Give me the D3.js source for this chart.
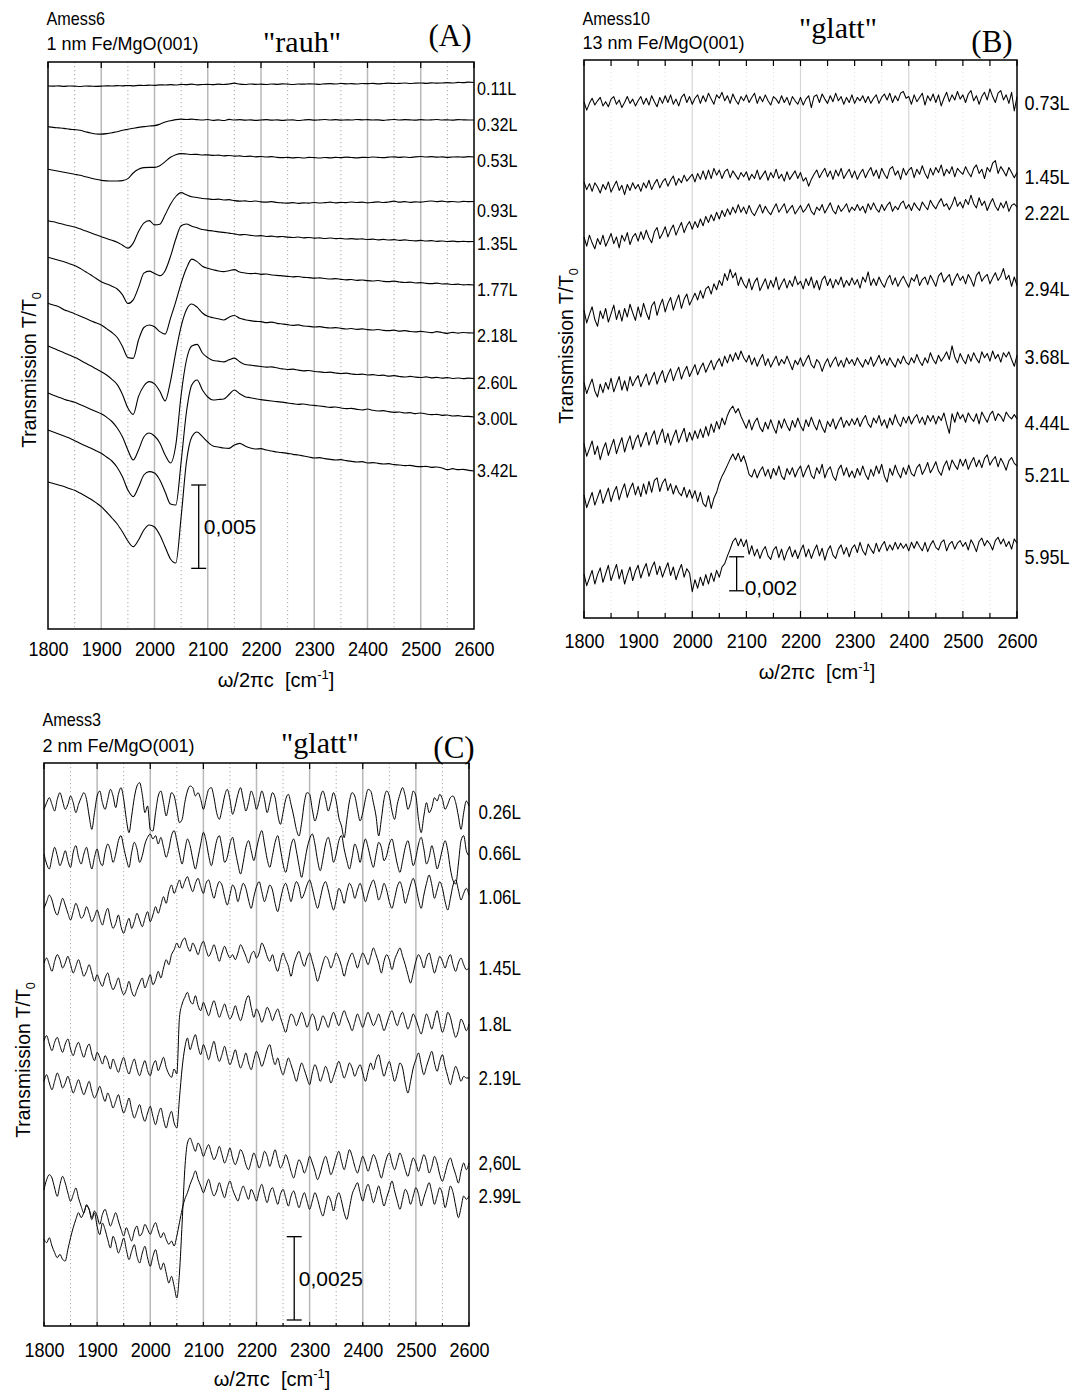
<!DOCTYPE html>
<html>
<head>
<meta charset="utf-8">
<title>Fe/MgO(001) IR transmission spectra</title>
<script src="https://cdn.jsdelivr.net/npm/d3@7/dist/d3.min.js"></script>
<style>
  html, body { margin: 0; padding: 0; background: #fff; }
  svg { display: block; }
</style>
</head>
<body>
<svg id="chart" width="1075" height="1393"></svg>
<script>
const SANS = "'Liberation Sans', Arial, Helvetica, sans-serif";
const SERIF = "'Liberation Serif', 'Times New Roman', serif";
const UNIT = 1e-5; // stored transmission values are in units of 1e-5 T/T0

// wavenumber axis (cm^-1)
const tickValues = [1800, 1900, 2000, 2100, 2200, 2300, 2400, 2500, 2600];
const waveA = d3.range(1800, 2601, 10);
const waveB = d3.range(1800, 2601, 5);
const waveC = d3.range(1800, 2601, 5);

// ---------- (A) Amess6, 1 nm Fe/MgO(001), "rauh" ----------
const labelsA = ['0.11L', '0.32L', '0.53L', '0.93L', '1.35L', '1.77L', '2.18L', '2.60L', '3.00L', '3.42L'];
const offsetsA = [3279, 3054, 2832, 2565, 2325, 2064, 1776, 1503, 1272, 948];
const tracesA = [
  [-21,-22,-20,-23,-21,-22,-24,-21,-22,-23,
   -22,-20,-21,-19,-20,-18,-20,-17,-18,-16,
   -17,-14,-15,-13,-15,-11,-13,-10,-14,-12,
   -11,-13,-10,-12,-9,-4,-10,-12,-9,-11,
   -10,-12,-9,-11,-8,-10,-12,-9,-10,-8,
   -9,-11,-8,-7,-9,-6,-8,-7,-9,-6,
   -7,-5,-8,-6,-4,-6,-5,-3,-6,-4,
   -3,-5,-2,-4,-3,-1,-3,1,-1,2,
   0],
  [-40,-44,-47,-50,-55,-58,-62,-70,-78,-84,
   -85,-82,-76,-70,-62,-56,-50,-44,-40,-36,
   -34,-25,-12,-4,2,5,3,5,2,0,
   3,-2,1,-3,4,0,2,-1,1,-2,
   0,2,-1,1,-2,0,1,-3,0,2,
   -1,1,3,0,2,-1,1,0,3,1,
   2,0,1,-2,1,3,0,2,1,-1,
   2,0,1,3,0,1,-1,2,1,0,
   0],
  [-74,-80,-86,-92,-98,-104,-110,-118,-126,-134,
   -140,-143,-144,-144,-142,-130,-96,-74,-64,-62,
   -62,-52,-28,-2,14,20,18,15,16,12,
   13,10,11,7,9,5,7,3,5,1,
   3,0,2,-2,-4,-2,-5,-3,-6,-2,
   -4,-6,-3,-5,-2,-4,-1,-3,-5,-2,
   -3,0,-2,-4,-1,1,-2,0,-3,1,
   3,0,2,-1,1,-2,0,1,-1,2,
   0],
  [-115,-122,-130,-138,-146,-153,-164,-176,-188,-200,
   -211,-222,-233,-244,-262,-280,-250,-180,-130,-115,
   -140,-136,-80,-16,30,53,40,28,24,18,
   16,12,14,9,11,5,2,4,0,3,
   -2,-4,-1,-6,-8,-10,-7,-11,-8,-10,
   -6,-9,-7,-4,-8,-5,-7,-3,-6,-4,
   -8,-5,-2,-6,-3,2,-4,-1,-5,-2,
   -4,0,3,-1,2,-2,0,-3,1,-1,
   0],
  [-95,-104,-113,-122,-133,-144,-160,-180,-200,-221,
   -241,-255,-268,-285,-320,-372,-350,-275,-190,-178,
   -192,-205,-175,-90,15,95,105,92,82,72,
   67,63,58,55,50,46,40,42,37,33,
   35,30,32,28,30,26,24,27,22,24,
   20,22,18,21,17,19,15,17,14,16,
   12,14,10,13,9,11,7,10,6,4,
   7,3,5,1,3,0,2,-1,1,-1,
   0],
  [-110,-120,-130,-148,-160,-172,-186,-200,-214,-227,
   -240,-262,-285,-315,-370,-435,-440,-330,-255,-240,
   -250,-280,-295,-200,-100,10,100,155,140,112,
   100,92,84,80,86,92,78,72,68,70,
   64,66,60,58,55,52,49,51,46,44,
   41,43,39,36,38,34,31,33,28,30,
   26,24,27,22,20,23,18,15,17,12,
   14,10,8,11,6,7,3,5,1,2,
   0],
  [-78,-92,-105,-118,-132,-146,-162,-180,-197,-215,
   -232,-252,-278,-310,-370,-450,-488,-380,-318,-292,
   -305,-350,-408,-290,-115,40,140,174,155,120,
   100,92,85,78,95,105,88,80,74,70,
   68,62,65,58,54,50,46,49,42,40,
   36,38,33,30,32,28,24,27,22,25,
   20,18,21,16,14,17,11,14,9,7,
   10,6,2,8,3,-2,4,-1,3,1,
   0],
  [-87,-100,-112,-124,-134,-142,-156,-170,-184,-198,
   -212,-232,-258,-297,-351,-429,-489,-429,-351,-327,
   -345,-387,-459,-507,-399,-99,111,195,205,153,
   125,108,104,100,112,122,100,84,80,76,
   72,68,70,64,58,54,56,50,46,48,
   42,40,36,38,33,30,32,27,24,26,
   21,23,18,20,14,17,12,9,13,8,
   6,10,4,7,2,5,0,3,-1,2,
   0],
  [-78,-90,-102,-114,-126,-142,-158,-172,-186,-202,
   -218,-240,-264,-303,-360,-438,-478,-420,-348,-328,
   -336,-378,-450,-522,-528,-270,30,192,222,162,
   120,102,105,108,135,162,140,122,116,110,
   104,100,96,92,89,84,80,76,78,72,
   70,66,62,58,60,54,50,52,46,42,
   48,40,36,38,32,28,30,24,26,20,
   24,18,14,16,10,12,6,8,3,4,
   0],
  [-66,-75,-84,-93,-105,-116,-132,-150,-168,-190,
   -214,-246,-282,-318,-366,-420,-454,-414,-354,-324,
   -336,-384,-456,-528,-552,-276,54,204,234,206,
   174,150,144,138,136,156,166,150,138,132,
   134,126,120,114,110,106,100,96,90,84,
   78,80,74,70,66,68,62,58,54,56,
   48,50,46,42,44,38,36,32,34,28,
   26,28,22,24,18,8,14,8,10,4,
   0]
];

// ---------- (B) Amess10, 13 nm Fe/MgO(001), "glatt" ----------
const labelsB = ['0.73L', '1.45L', '2.22L', '2.94L', '3.68L', '4.44L', '5.21L', '5.95L'];
const offsetsB = [3046, 2599, 2411, 1970, 1535, 1171, 889, 415];
const tracesB = [
  [-10,-60,-20,10,-30,-5,15,-35,-10,-40,5,20,-25,0,-45,-15,20,-20,5,-35,
   -5,20,-25,10,-30,25,-10,-40,15,-20,25,-15,30,-25,5,-35,15,35,-15,20,
   -25,10,30,-20,25,-10,40,5,-25,30,10,45,-5,25,-20,35,0,-25,20,-5,
   30,-15,15,40,-20,20,-10,30,-5,-30,20,5,-20,25,-15,15,-30,20,-5,-25,
   15,-30,5,25,-45,20,30,-15,35,5,-20,25,-10,40,-5,20,-25,15,-15,30,
   -20,15,-5,25,-15,20,-20,10,30,-20,15,35,0,40,-15,25,-5,40,50,10,
   20,-25,30,-10,15,40,-30,25,-5,35,-15,30,-35,10,45,-10,30,0,50,5,
   30,-15,35,55,-5,25,-25,20,45,0,65,20,-15,40,55,0,30,-20,45,-65,
   20],
  [-35,-80,-45,-90,-40,-65,-100,-50,-80,-35,-95,-60,-30,-85,-55,-110,-50,-85,-40,-75,
   -50,-90,-40,-70,-25,-80,-45,-20,-70,-35,-15,-60,-25,0,-55,-15,-40,5,-30,-10,
   10,-35,15,-20,30,-20,35,-15,45,5,35,-15,25,40,-10,30,5,-20,20,-5,
   25,-25,10,-15,35,-20,5,30,-25,20,-10,40,-15,10,-30,25,-20,5,30,-15,
   20,-30,-10,-60,-20,10,35,-10,20,45,-5,30,-20,35,0,45,-15,15,40,-10,
   30,-20,15,40,-10,25,50,0,35,-15,45,10,-15,40,55,5,30,-20,45,5,
   35,50,-10,40,10,60,15,-15,45,5,50,20,65,0,40,15,55,-5,45,25,
   10,55,20,-5,45,65,15,40,-15,50,25,75,90,15,55,30,0,50,20,-10,
   20],
  [-170,-225,-160,-205,-240,-180,-215,-160,-225,-190,-150,-210,-170,-235,-160,-195,-145,-215,-170,-150,
   -195,-140,-185,-130,-175,-205,-140,-115,-180,-150,-110,-170,-130,-100,-160,-120,-85,-145,-105,-80,
   -125,-80,-115,-65,-105,-50,-85,-40,-75,-25,-65,-15,-50,-5,-40,5,-30,20,-25,5,
   -35,15,-25,-45,-10,20,-30,10,-20,-40,-5,25,-25,0,25,-30,-5,15,-35,-10,
   15,-25,-5,25,-20,-40,5,-15,20,-30,0,30,-15,-35,15,-20,0,25,-25,5,
   -15,20,-15,10,-30,25,-10,30,-5,-25,20,-15,15,35,-20,10,-10,25,40,-5,
   20,-15,30,5,-15,35,10,-10,45,15,-5,30,55,10,25,-10,20,65,10,35,
   0,50,20,75,25,0,60,15,40,-15,25,55,10,-15,30,0,40,-20,15,25,
   5],
  [-160,-235,-185,-140,-215,-255,-165,-210,-150,-230,-180,-130,-215,-160,-225,-150,-200,-125,-175,-220,
   -140,-200,-120,-175,-215,-135,-110,-190,-135,-95,-170,-120,-85,-160,-110,-70,-150,-95,-65,-130,
   -95,-60,-100,-45,-90,-35,-20,-65,-5,-40,15,-15,55,15,80,30,60,-15,35,-5,
   -30,25,-40,5,30,-45,-10,25,-35,15,-25,35,-40,-5,25,-30,15,-20,40,-10,
   10,-35,25,-15,35,-30,15,-40,20,40,-15,25,-30,20,-10,35,-25,15,-15,30,
   -10,20,-30,35,5,65,-15,25,-15,35,0,-25,20,45,-10,30,-20,15,40,5,
   -25,30,10,50,-15,20,35,-10,45,15,-20,40,60,5,30,50,-15,25,55,15,
   40,-5,50,20,-20,45,65,10,35,50,-5,30,60,15,40,85,20,45,-20,35,
   -15],
  [-150,-215,-170,-130,-200,-235,-160,-210,-150,-190,-125,-205,-160,-115,-195,-140,-200,-115,-170,-135,
   -110,-175,-135,-100,-165,-125,-90,-160,-115,-80,-150,-105,-70,-140,-95,-60,-130,-85,-55,-115,
   -80,-45,-105,-65,-35,-90,-55,-20,-75,-35,-10,-55,5,-35,15,-25,25,-15,35,-5,
   -30,10,-45,-5,-55,-15,15,-50,-10,-60,-25,5,-50,-15,-40,5,-35,-75,-20,-45,
   -5,-55,-20,10,-45,-65,-15,-35,-85,-40,-10,-60,-25,0,-55,-20,-60,-5,-40,-15,
   -50,-5,-35,-60,-15,-45,0,-55,-25,10,-40,-10,-50,-5,-35,-60,-10,-40,5,-30,
   -45,-5,-35,15,-25,-50,-5,-35,25,-15,-40,10,-25,0,30,-15,65,0,-35,20,
   -15,-40,15,-25,25,-10,-35,30,-5,20,-25,35,-10,15,-30,25,0,30,-15,-55,
   10],
  [-145,-220,-175,-130,-210,-160,-240,-180,-140,-215,-165,-120,-205,-155,-110,-195,-140,-100,-180,-125,
   -95,-165,-120,-80,-155,-105,-70,-150,-100,-60,-140,-85,-155,-105,-65,-140,-95,-55,-135,-80,
   -125,-70,-115,-60,-110,-45,-100,-30,-80,-15,-60,5,-35,20,55,75,35,60,15,-20,
   -55,-5,-65,-20,5,-50,-75,-20,-60,-5,-50,-85,-10,-55,0,-40,-70,-10,-50,5,
   -40,-70,-5,-45,10,-35,-65,-5,-50,-80,-15,-45,0,-60,-20,10,-50,-10,-40,0,
   -35,5,-45,-5,20,-30,-50,5,-25,20,-40,-5,-55,5,-35,25,-20,-45,10,-25,
   15,-30,5,25,-25,10,-35,20,-15,20,-30,15,-10,35,-30,-85,30,-20,40,0,
   25,-20,35,5,-15,30,-30,40,10,-20,25,45,-10,30,15,-15,40,15,0,25,
   0],
  [-165,-240,-195,-150,-225,-180,-135,-215,-170,-125,-205,-150,-115,-195,-140,-100,-180,-130,-95,-165,
   -115,-175,-100,-160,-85,-150,-80,-65,-145,-95,-70,-140,-100,-160,-110,-150,-170,-120,-180,-135,
   -185,-140,-205,-150,-215,-235,-170,-245,-185,-150,-95,-55,-25,10,45,75,40,80,30,65,
   15,-45,-60,-15,-65,-25,0,-55,-15,-70,-10,-50,5,-55,-75,-10,-45,-5,-60,-20,
   5,-60,-20,10,-50,-70,-5,-40,15,-65,-20,0,-55,-80,-15,10,-50,-5,-60,-25,
   -65,-10,-50,5,-45,-75,-15,-55,5,-40,15,-55,-90,-10,-50,10,-35,-65,-5,-45,
   10,-40,-55,-5,15,-45,-15,25,-35,-5,30,-25,-50,5,35,-20,40,10,-15,45,
   5,45,-15,25,55,0,40,-5,50,70,10,40,60,0,50,20,-20,35,55,20,
   5],
  [-155,-225,-180,-135,-215,-160,-120,-205,-155,-105,-195,-145,-100,-185,-130,-215,-160,-115,-195,-140,
   -105,-180,-130,-95,-170,-120,-85,-160,-110,-175,-130,-90,-165,-115,-190,-140,-100,-175,-125,-150,
   -260,-190,-240,-175,-225,-160,-215,-150,-200,-135,-175,-115,-95,-50,-10,35,55,10,50,5,
   45,-40,10,-50,-10,-65,-20,5,-50,-70,-15,5,-60,-10,-75,-25,5,-55,-15,-65,
   -20,15,-55,-10,-65,-20,15,-50,-5,-75,-20,10,-45,-65,-10,15,-40,0,-55,-5,
   15,-30,30,-20,-45,20,-10,-35,25,-25,10,35,-20,15,-15,30,-10,25,-5,20,
   -20,30,-5,35,5,-20,30,-25,15,40,0,-15,30,45,-20,20,35,-10,25,40,
   5,30,-15,45,15,-25,35,55,10,40,20,-15,40,60,20,50,5,35,-10,50,
   25]
];

// ---------- (C) Amess3, 2 nm Fe/MgO(001), "glatt" ----------
const labelsC = ['0.26L', '0.66L', '1.06L', '1.45L', '1.8L', '2.19L', '2,60L', '2.99L'];
const offsetsC = [1560, 1416, 1293, 1074, 906, 744, 489, 390];
const tracesC = [
  [-10,10,25,5,-15,20,40,15,-10,5,30,10,-20,5,25,40,20,-30,-70,-20,
   30,45,10,-10,20,50,30,-5,35,55,20,-40,-80,-30,25,60,70,35,-20,0,
   -70,-75,-20,30,45,10,-30,5,40,30,-10,-50,-40,10,45,60,55,30,40,20,
   -10,20,50,55,25,-20,-40,-10,30,50,20,-25,0,35,55,20,-15,10,45,25,
   -10,15,45,20,-20,10,40,25,-25,-55,-20,20,35,5,-30,-70,-90,-50,10,40,
   35,-10,-45,-20,25,45,20,-15,10,40,15,-35,-60,-95,-40,15,40,30,-10,-45,
   -20,20,50,45,10,-30,-90,-40,20,45,30,-15,-40,5,35,55,30,-10,10,45,
   30,-40,-80,-30,10,-20,-5,25,15,35,20,-10,5,25,30,10,-30,-70,-20,15,
   0],
  [0,-30,-45,-10,20,-5,-35,-15,10,-20,-40,5,25,-10,-30,0,20,-15,-45,-10,
   15,-20,-35,5,30,10,-25,0,40,55,20,-15,-40,5,35,15,-25,-5,30,50,
   60,45,55,30,50,20,-10,15,55,70,40,0,-30,10,45,25,-15,-45,-10,30,
   65,40,-5,-35,0,40,55,20,-25,-10,30,50,10,-30,-60,-25,20,40,10,-20,
   15,50,70,30,-15,-40,-5,35,55,15,-30,-55,-20,25,45,10,-35,-70,-30,15,
   45,60,30,-20,-50,-15,30,50,20,-25,0,40,55,15,-20,-45,-10,30,10,-25,
   15,45,20,-15,-40,0,35,20,-20,-5,30,45,10,-30,-55,-20,20,40,5,-35,
   -10,30,50,15,-30,-10,25,-5,-45,-20,15,40,10,-45,-80,-90,-30,40,55,10,
   -5],
  [-40,-20,0,-15,-45,-60,-35,-10,-30,-55,-75,-50,-25,-45,-70,-60,-35,-55,-80,-65,
   -45,-70,-90,-60,-40,-75,-100,-85,-60,-95,-115,-90,-70,-100,-80,-55,-75,-95,-70,-50,
   -80,-60,-35,-55,-30,-5,-25,10,30,5,25,45,20,40,55,30,10,35,50,25,
   5,35,45,15,-10,20,40,30,-5,-30,0,30,15,-20,10,35,20,-15,-40,-5,
   25,40,10,-20,5,30,15,-25,-50,-15,20,35,10,-20,15,40,25,-10,5,30,
   45,20,-15,-40,-10,25,40,15,-20,-45,-15,20,5,-25,10,35,20,-10,15,35,
   10,-20,5,30,45,20,-15,5,35,15,-20,-40,-10,25,40,15,-25,0,30,50,
   25,-15,-40,0,35,60,30,-10,15,40,20,-20,-45,-10,30,45,15,-15,5,20,
   0],
  [15,30,10,-10,20,40,25,0,15,35,10,-15,5,25,0,-25,-10,10,-15,-40,
   -20,-40,-55,-30,-15,-45,-65,-50,-30,-60,-80,-65,-40,-70,-85,-65,-45,-30,-60,-40,
   -20,-50,-35,-10,-30,0,25,10,40,55,75,60,80,90,65,50,75,60,40,65,
   80,55,35,50,70,45,20,45,65,45,30,40,25,45,70,55,35,15,40,50,
   30,45,75,60,35,20,40,10,-10,20,45,25,5,-25,10,35,50,25,5,30,
   45,20,-10,-40,-15,15,35,25,0,20,45,30,5,-25,5,30,45,25,0,25,
   45,30,10,35,60,40,15,-15,20,40,25,-5,25,45,60,35,10,-20,-45,-15,
   20,40,25,0,30,45,15,-15,10,35,20,0,25,40,10,-10,15,30,10,-5,
   0],
  [-50,-35,-60,-80,-55,-40,-65,-85,-60,-45,-75,-95,-70,-55,-80,-100,-75,-60,-90,-110,
   -85,-100,-120,-95,-110,-135,-105,-125,-145,-120,-100,-130,-150,-125,-105,-135,-155,-130,-110,-140,
   -155,-125,-110,-140,-120,-100,-130,-150,-160,-135,-150,20,60,80,95,70,60,85,55,40,
   65,45,25,50,70,45,20,40,60,35,15,30,55,30,10,35,70,85,50,20,
   45,30,5,25,50,35,10,30,45,20,-5,-25,5,30,20,-5,15,35,15,-10,
   10,30,15,-20,0,25,10,-10,15,35,15,-5,20,40,20,0,-20,5,30,10,
   -10,15,35,15,-5,10,30,5,-20,0,25,40,15,-5,20,35,10,-15,5,30,
   15,-10,-30,0,30,10,-15,15,40,5,-25,0,35,20,-15,-40,-20,15,0,-20,
   0],
  [-10,10,-15,-35,-10,15,-5,-30,-15,5,-20,-45,-25,-5,-30,-50,-30,-10,-40,-60,
   -45,-25,-50,-70,-45,-65,-90,-70,-50,-80,-105,-85,-60,-95,-120,-100,-80,-110,-130,-105,
   -85,-115,-140,-110,-90,-125,-150,-120,-100,-135,-150,-60,30,90,120,85,110,130,95,70,
   100,80,55,85,110,75,50,70,95,65,40,60,85,55,30,50,75,45,25,55,
   80,60,35,55,85,100,65,40,60,30,10,35,60,40,15,-10,20,45,25,0,
   -20,15,40,20,-10,10,35,15,-15,5,30,50,25,0,20,45,30,5,25,40,
   15,-10,20,45,25,55,70,35,5,30,50,20,-10,15,45,30,-15,-45,-10,30,
   55,75,40,10,35,60,80,45,20,50,70,35,5,-20,10,35,15,-10,5,0,
   0],
  [-80,-50,-35,-45,-75,-100,-65,-40,-60,-90,-115,-95,-75,-105,-130,-150,-125,-140,-170,-150,
   -190,-215,-180,-200,-230,-255,-220,-240,-270,-250,-225,-260,-290,-265,-245,-280,-300,-270,-250,-285,
   -310,-280,-260,-295,-320,-300,-330,-360,-340,-370,-405,-330,-180,-20,60,75,55,35,60,45,
   20,40,55,30,10,25,50,25,0,20,45,15,-5,15,40,25,-5,-20,5,30,
   10,-15,5,35,20,-10,15,40,10,-15,0,25,5,-25,-45,-15,10,-5,-30,-10,
   20,0,-25,-50,-30,0,20,-5,-35,-15,15,35,5,-20,10,40,20,-10,-30,-5,
   20,0,-25,0,25,10,-20,-45,-15,15,30,0,-20,5,30,10,-20,-40,-10,15,
   0,-25,0,25,5,-30,-10,20,0,-35,-55,-30,0,15,-10,-35,-60,-25,0,-20,
   0],
  [-130,-140,-125,-150,-170,-185,-175,-190,-195,-160,-125,-95,-70,-50,-65,-50,-30,-40,-65,-45,
   -60,-85,-55,-40,-65,-90,-70,-50,-75,-100,-120,-95,-115,-135,-105,-90,-120,-110,-85,-100,
   -115,-95,-80,-105,-125,-110,-130,-145,-135,-150,-120,-80,-40,-10,10,35,55,75,50,30,
   10,30,50,20,0,15,40,15,-5,25,45,20,0,-15,10,30,10,-10,20,5,
   -15,15,35,5,-20,10,25,0,-25,5,20,-5,-30,0,15,-10,-35,-10,10,-15,
   -40,-15,10,-10,-40,-60,-30,0,-15,-45,-10,10,-15,-50,-70,-35,5,25,40,10,
   -15,15,35,10,-20,5,30,0,-30,-5,20,45,15,-15,-40,-10,20,5,-25,0,
   25,5,-30,-5,20,40,10,-25,0,25,5,-35,-5,30,10,-30,-65,-35,0,-10,
   0]
];

// scale bars: [wavenumber, base value, length]
const barA = [2083, 0.00364, 0.005];
const barB = [2082, 0.00160, 0.002];
const barC = [2271, 0.00018, 0.0025];

const svg = d3.select('#chart');

function addText(g, x, y, str, o = {}) {
  const t = g.append('text')
    .attr('transform', `translate(${x},${y})` + (o.rotate ? ` rotate(${o.rotate})` : '') + ` scale(${o.sx || 1},1)`)
    .attr('text-anchor', o.anchor || 'start')
    .attr('dy', o.dy === undefined ? '0.35em' : o.dy)
    .attr('font-family', o.family || SANS)
    .attr('font-size', o.size || 20)
    .attr('fill', '#000');
  if (str !== null) t.text(str);
  return t;
}

function drawPanel(p) {
  const g = svg.append('g');
  const x = d3.scaleLinear().domain([1800, 2600]).range([p.left, p.right]);
  const y = d3.scaleLinear().domain([0, p.ymax]).range([p.bottom, p.top]);

  // gridlines
  g.selectAll('line.minor').data(p.minorGrid).join('line')
    .attr('x1', d => x(d)).attr('x2', d => x(d))
    .attr('y1', p.top).attr('y2', p.bottom)
    .attr('stroke', p.minorColor).attr('stroke-width', 1)
    .attr('stroke-dasharray', '1.2,2.8');
  g.selectAll('line.major').data(p.majorGrid).join('line')
    .attr('x1', d => x(d)).attr('x2', d => x(d))
    .attr('y1', p.top).attr('y2', p.bottom)
    .attr('stroke', p.majorColor).attr('stroke-width', p.majorWidth);

  // inward ticks
  const t100 = d3.range(1800, 2601, 100), t50 = d3.range(1850, 2600, 100);
  const tick = (vals, y0, len, color) => g.append('g').selectAll('line').data(vals).join('line')
    .attr('x1', d => x(d)).attr('x2', d => x(d))
    .attr('y1', y0).attr('y2', y0 + len)
    .attr('stroke', color).attr('stroke-width', 1.2);
  tick(t100, p.top, p.topTick, '#000');
  if (p.topTick50) tick(t50, p.top, p.topTick50, '#000');
  if (p.botTick) tick(t100, p.bottom, -p.botTick, '#000');
  if (p.botTick50) tick(t50, p.bottom, -p.botTick50, '#000');

  // traces
  const line = d3.line()
    .x((d, i) => x(p.wave[i]))
    .curve(p.curve);
  p.traces.forEach((tr, k) => {
    g.append('path')
      .attr('d', line.y(d => y((p.offsets[k] + d) * UNIT))(tr))
      .attr('fill', 'none').attr('stroke', '#000')
      .attr('stroke-width', p.lineWidth).attr('stroke-linejoin', 'round');
  });

  // frame
  g.append('rect')
    .attr('x', p.left).attr('y', p.top)
    .attr('width', p.right - p.left).attr('height', p.bottom - p.top)
    .attr('fill', 'none').attr('stroke', '#000').attr('stroke-width', 1.5);

  // tick labels
  const ax = g.append('g').attr('transform', `translate(0,${p.bottom})`)
    .call(d3.axisBottom(x).tickValues(tickValues).tickSize(0).tickPadding(p.tickPad).tickFormat(d3.format('d')));
  ax.select('.domain').remove();
  ax.selectAll('text').attr('font-family', SANS).attr('font-size', 21)
    .attr('fill', '#000').attr('transform', 'scale(0.86,1)');

  // x title
  const xt = addText(g, p.xTitle[0], p.xTitle[1], null, { anchor: 'middle', size: 20 });
  xt.append('tspan').text('\u03c9/2\u03c0c\u00a0\u00a0[cm');
  xt.append('tspan').attr('dy', -8).attr('font-size', 13).text('-1');
  xt.append('tspan').attr('dy', 8).text(']');

  // y title
  const yt = addText(g, p.yTitle[0], p.yTitle[1], null, { anchor: 'middle', size: 20, rotate: -90, sx: 0.97 });
  yt.append('tspan').text('Transmission T/T');
  yt.append('tspan').attr('dy', 5).attr('font-size', 13).text('0');

  // coverage labels
  p.labels.forEach((lab, k) => addText(g, p.labelX, p.labelY[k], lab, { size: p.labelSize, sx: p.labelSx }));

  // scale bar
  const [bw, bBase, bLen] = p.bar;
  const bx = x(bw), by0 = y(bBase), by1 = y(bBase + bLen);
  g.append('line').attr('x1', bx).attr('x2', bx).attr('y1', by0).attr('y2', by1)
    .attr('stroke', '#000').attr('stroke-width', 1.3);
  [by0, by1].forEach(yy => g.append('line')
    .attr('x1', bx - p.capHalf).attr('x2', bx + p.capHalf).attr('y1', yy).attr('y2', yy)
    .attr('stroke', '#000').attr('stroke-width', 1.3));
  addText(g, bx + p.barTextDx, p.barTextY === 'mid' ? (by0 + by1) / 2 : by0 + p.barTextY,
    p.barText, { size: 21 });

  // headers
  addText(g, p.left - 1.5, p.head1Y, p.head1, { size: 18, sx: 0.9, dy: 0 });
  addText(g, p.left - 1.5, p.head2Y, p.head2, { size: 18, dy: 0 });
  addText(g, p.titleX, p.titleY, p.title, { size: 30, family: SERIF, anchor: 'middle', dy: 0 });
  addText(g, p.tagX, p.tagY, p.tag, { size: 31, family: SERIF, anchor: 'middle', dy: 0 });
  return g;
}

drawPanel({
  left: 48, right: 474, top: 62, bottom: 629, ymax: 0.03402,
  wave: waveA, traces: tracesA, offsets: offsetsA, curve: d3.curveMonotoneX, lineWidth: 1.1,
  majorGrid: [1900, 2000, 2100, 2200, 2300, 2400, 2500], majorColor: '#b9b9b9', majorWidth: 1.5,
  minorGrid: [1850, 1950, 2050, 2150, 2250, 2350, 2450, 2550], minorColor: '#a8a8a8',
  topTick: 6, topTick50: 0, botTick: 0, botTick50: 0, tickPad: 11.6,
  xTitle: [276, 680], yTitle: [29, 370],
  labels: labelsA, labelX: 477, labelY: [88, 124, 160, 210, 243, 289, 335, 382, 418, 470], labelSize: 19, labelSx: 0.85,
  bar: barA, capHalf: 7.5, barText: '0,005', barTextDx: 5, barTextY: 'mid',
  head1: 'Amess6', head1Y: 25, head2: '1 nm Fe/MgO(001)', head2Y: 50,
  title: '"rauh"', titleX: 302, titleY: 52, tag: '(A)', tagX: 450, tagY: 46
});

drawPanel({
  left: 584, right: 1017, top: 60, bottom: 618, ymax: 0.03281,
  wave: waveB, traces: tracesB, offsets: offsetsB, curve: d3.curveLinear, lineWidth: 1.05,
  majorGrid: [2000, 2200, 2400], majorColor: '#d6d6d6', majorWidth: 1.2,
  minorGrid: [1850, 1900, 1950, 2050, 2100, 2150, 2250, 2300, 2350, 2450, 2500, 2550], minorColor: '#e2e2e2',
  topTick: 6, topTick50: 6, botTick: 7, botTick50: 5, tickPad: 14.6,
  xTitle: [817, 672], yTitle: [565.5, 346],
  labels: labelsB, labelX: 1024.5, labelY: [103, 177, 213, 289, 357, 423, 475, 557], labelSize: 20, labelSx: 0.9,
  bar: barB, capHalf: 7.5, barText: '0,002', barTextDx: 8, barTextY: -3,
  head1: 'Amess10', head1Y: 25, head2: '13 nm Fe/MgO(001)', head2Y: 49,
  title: '"glatt"', titleX: 838, titleY: 38, tag: '(B)', tagX: 992, tagY: 52
});

drawPanel({
  left: 44, right: 469, top: 763, bottom: 1326, ymax: 0.01689,
  wave: waveC, traces: tracesC, offsets: offsetsC, curve: d3.curveMonotoneX, lineWidth: 1,
  majorGrid: [1900, 2000, 2100, 2200, 2300, 2400, 2500], majorColor: '#b9b9b9', majorWidth: 1.5,
  minorGrid: [1850, 1950, 2050, 2150, 2250, 2350, 2450, 2550], minorColor: '#a8a8a8',
  topTick: 6, topTick50: 0, botTick: 4, botTick50: 3, tickPad: 15.6,
  xTitle: [272, 1379], yTitle: [22.5, 1060],
  labels: labelsC, labelX: 478.5, labelY: [812, 853, 897, 968, 1024, 1078, 1163, 1196], labelSize: 20, labelSx: 0.85,
  bar: barC, capHalf: 7.5, barText: '0,0025', barTextDx: 4.5, barTextY: 'mid',
  head1: 'Amess3', head1Y: 726, head2: '2 nm Fe/MgO(001)', head2Y: 752,
  title: '"glatt"', titleX: 320, titleY: 753, tag: '(C)', tagX: 454, tagY: 758
});
</script>
</body>
</html>
